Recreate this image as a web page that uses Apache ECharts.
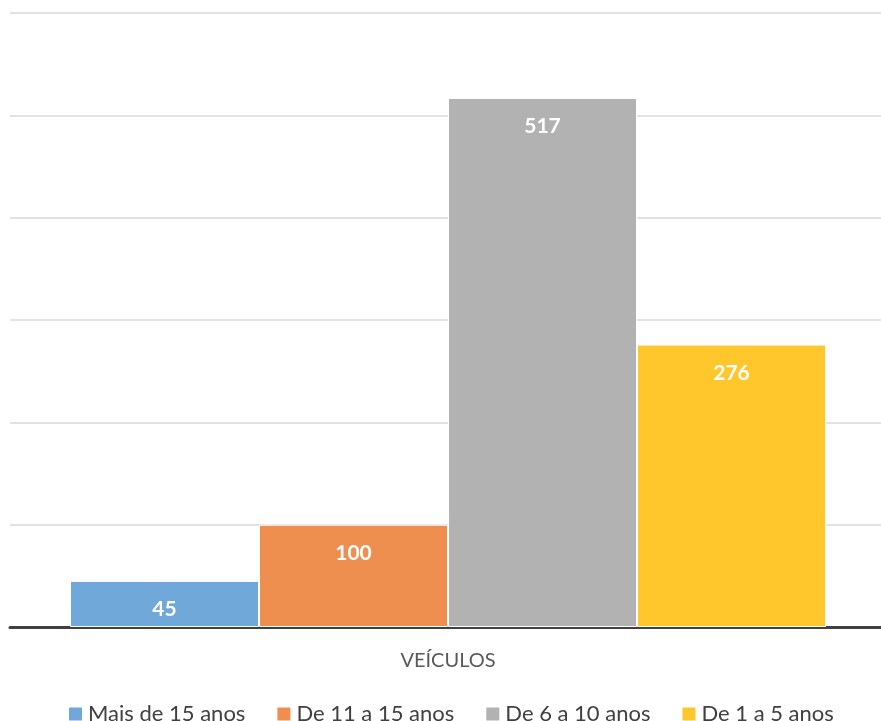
<!DOCTYPE html>
<html><head><meta charset="utf-8">
<script src="https://cdn.jsdelivr.net/npm/echarts@6/dist/echarts.min.js"></script>
<style>html,body{margin:0;padding:0;background:#fff}#c{width:881px;height:721px}</style>
</head><body><div id="c"></div>
<script>
const categories = ['VEÍCULOS'];
const seriesNames = ['Mais de 15 anos', 'De 11 a 15 anos', 'De 6 a 10 anos', 'De 1 a 5 anos'];
const seriesValues = [45, 100, 517, 276];
const colors = ['#71A8DA', '#EF8F4F', '#B2B2B2', '#FFC72C'];
const yTicks = {min: 0, max: 600, interval: 100};

const FONT = 'Lato, "Open Sans", sans-serif';
const chart = echarts.init(document.getElementById('c'));
chart.setOption({
  animation: false,
  grid: [
    {left: 15, right: 0, top: 13, bottom: 94, containLabel: false},
    {left: 10, right: 0, top: 13, bottom: 94, containLabel: false}
  ],
  legend: {
    top: 698, left: 62, itemWidth: 15, itemHeight: 15, itemGap: 30,
    icon: 'rect',
    textStyle: {fontFamily: FONT, fontSize: 22, color: '#404040'},
    data: seriesNames
  },
  xAxis: [{
    type: 'category', data: categories, gridIndex: 0,
    axisLine: {show: false},
    axisTick: {show: false},
    axisLabel: {fontFamily: FONT, fontSize: 20, color: '#595959', margin: 24}
  }, {
    type: 'category', data: categories, gridIndex: 1,
    axisLine: {lineStyle: {color: '#404040', width: 3}},
    axisTick: {show: false}, axisLabel: {show: false}
  }],
  yAxis: [{
    type: 'value', gridIndex: 0, min: yTicks.min, max: yTicks.max, interval: yTicks.interval,
    axisLabel: {show: false}, axisLine: {show: false}, axisTick: {show: false},
    splitLine: {show: false}
  }, {
    type: 'value', gridIndex: 1, min: yTicks.min, max: yTicks.max, interval: yTicks.interval,
    axisLabel: {show: false}, axisLine: {show: false}, axisTick: {show: false},
    splitLine: {lineStyle: {color: '#D9D9D9', width: 1.5}}
  }],
  series: seriesNames.map((n, i) => ({
    name: n, type: 'bar', data: [seriesValues[i]], xAxisIndex: 0, yAxisIndex: 0,
    barGap: '0%', barCategoryGap: '12.7%', z: 3,
    itemStyle: {color: colors[i], borderColor: '#fff', borderWidth: 1},
    label: {show: true, position: 'insideTop', distance: 18, color: '#fff',
      fontFamily: FONT, fontWeight: 'bold', fontSize: 21}
  }))
});
</script></body></html>
